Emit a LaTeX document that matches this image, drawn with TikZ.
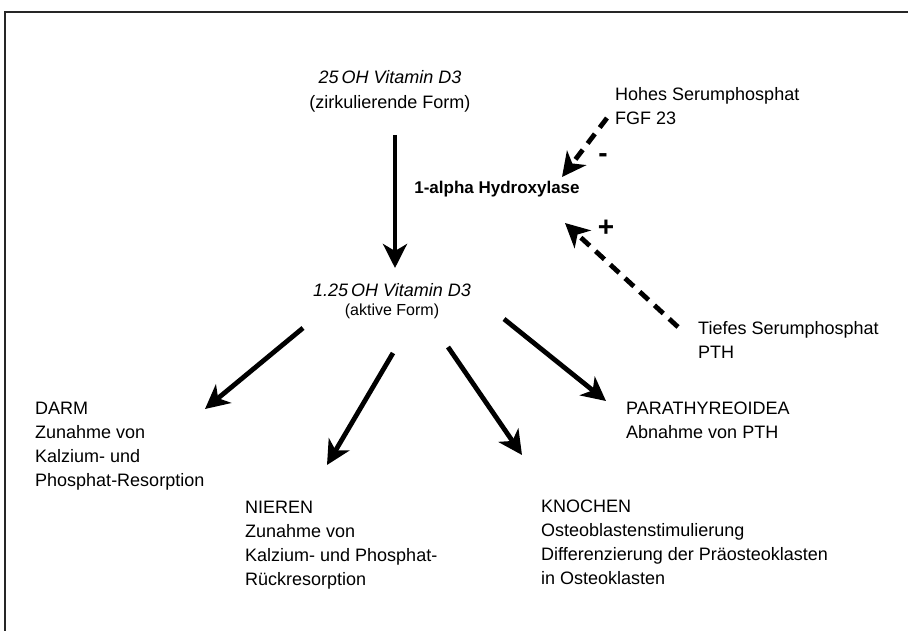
\documentclass[tikz,border=0pt]{standalone}
\usepackage{fontspec}
\setmainfont{Liberation Sans}
\usetikzlibrary{arrows.meta}
\tikzset{
  x=1pt, y=-1pt,
  txt/.style={inner sep=0pt, font=\fontsize{18}{24}\selectfont, align=left},
  small/.style={inner sep=0pt, font=\fontsize{16}{20}\selectfont},
  solidarrow/.style={line width=4.8pt, -{Stealth[length=24pt, width=24pt, inset=7pt]}},
  dasharrow/.style={line width=4.8pt, dash pattern=on 12pt off 8pt, -{Stealth[length=24pt, width=24pt, inset=7pt]}},
  sign/.style={inner sep=0pt, font=\fontsize{28}{28}\selectfont\bfseries}
}
\begin{document}
\begin{tikzpicture}
\useasboundingbox (0,0) rectangle (908,631);
\fill[white] (0,0) rectangle (908,631);
\draw[line width=2pt, color=black!85] (5,631) -- (5,12) -- (908,12);

% top source
\node[txt, anchor=base] (src) at (390,84) {\itshape 25\,OH Vitamin D3};
\node[txt, anchor=base] (srcsub) at (390,109) {(zirkulierende Form)};

\node[txt, anchor=base, font=\fontsize{17}{24}\selectfont\bfseries] (enz) at (497,194) {1-alpha Hydroxylase};

\node[txt, anchor=base] (act) at (392,296) {\itshape 1.25\,OH Vitamin D3};
\node[small, anchor=base] (actsub) at (392,316) {(aktive Form)};

% multi-line nodes: base anchor = last line
\node[txt, anchor=base west] (hoch) at (615,125) {Hohes Serumphosphat\\FGF 23};
\node[txt, anchor=base west] (tief) at (698,358) {Tiefes Serumphosphat\\PTH};

\node[txt, anchor=base west] (darm) at (35,486) {DARM\\Zunahme von\\Kalzium- und\\Phosphat-Resorption};
\node[txt, anchor=base west] (nieren) at (245,585) {NIEREN\\Zunahme von\\Kalzium- und Phosphat-\\Rückresorption};
\node[txt, anchor=base west] (para) at (626,438) {PARATHYREOIDEA\\Abnahme von PTH};
\node[txt, anchor=base west] (knochen) at (541,584) {KNOCHEN\\Osteoblastenstimulierung\\Differenzierung der Präosteoklasten\\in Osteoklasten};

% arrow coordinates
\coordinate (a0s) at (395,135);
\coordinate (a0e) at (395,268);
\draw[solidarrow] (a0s) -- (a0e);

\coordinate (d1s) at (607,118);
\coordinate (d1e) at (562,177);
\draw[dasharrow] (d1s) -- (d1e);
\node[sign] (minus) at (603,158) {-};

\coordinate (d2s) at (678,327);
\coordinate (d2e) at (565,223);
\draw[dasharrow] (d2s) -- (d2e);
\node[sign] (plus) at (606,228) {+};

\coordinate (b1s) at (303,328);
\coordinate (b1e) at (205,409);
\draw[solidarrow] (b1s) -- (b1e);
\coordinate (b2s) at (393,353);
\coordinate (b2e) at (327,465);
\draw[solidarrow] (b2s) -- (b2e);
\coordinate (b3s) at (448,347);
\coordinate (b3e) at (522,455);
\draw[solidarrow] (b3s) -- (b3e);
\coordinate (b4s) at (504,319);
\coordinate (b4e) at (606,401);
\draw[solidarrow] (b4s) -- (b4e);
\end{tikzpicture}
\end{document}
